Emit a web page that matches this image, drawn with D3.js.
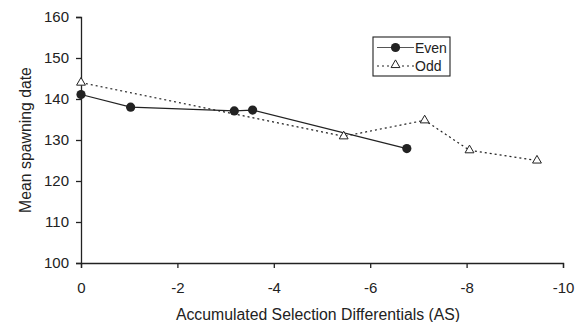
<!DOCTYPE html>
<html>
<head>
<meta charset="utf-8">
<script src="https://cdn.jsdelivr.net/npm/d3@7"></script>
<style>
  body { margin: 0; background: #fff; }
  svg { font-family: "Liberation Sans", Arial, sans-serif; }
</style>
</head>
<body>
<div id="chart"></div>
<script>
// x = accumulated selection differential, y = mean spawning date
const evenAS   = [0, -1.03, -3.18, -3.56, -6.76]
const evenDate = [141.1, 138.0, 137.1, 137.3, 127.9]
const oddAS    = [0, -5.45, -7.13, -8.06, -9.46]
const oddDate  = [144.0, 130.9, 134.8, 127.5, 125.0]
const xTicks   = [0, -2, -4, -6, -8, -10]
const yTicks   = [100, 110, 120, 130, 140, 150, 160]

const W = 581, H = 322
const margin = { top: 17, right: 18, bottom: 59, left: 81 }
const plotW = W - margin.left - margin.right
const plotH = H - margin.top - margin.bottom

const svg = d3.select("#chart").append("svg")
  .attr("width", W).attr("height", H)

const g = svg.append("g")
  .attr("transform", `translate(${margin.left},${margin.top})`)

// x runs from 0 down to -10, left to right
const x = d3.scaleLinear().domain([0, -10]).range([0, plotW])
const y = d3.scaleLinear().domain([100, 160]).range([plotH, 0])

const xAxis = g.append("g")
  .attr("transform", `translate(0,${plotH})`)
  .call(d3.axisBottom(x).tickValues(xTicks).tickSize(5).tickPadding(14))

const yAxis = g.append("g")
  .call(d3.axisLeft(y).tickValues(yTicks).tickSize(5).tickPadding(7))

;[xAxis, yAxis].forEach(a => {
  a.select(".domain").attr("stroke", "#222").attr("stroke-width", 1.3)
  a.selectAll(".tick line").attr("stroke", "#222").attr("stroke-width", 1.3)
  a.selectAll("text").style("font-size", "15px").style("fill", "#222")
})
// minus sign as plain hyphen like the original
xAxis.selectAll("text").text(d => d === 0 ? "0" : "-" + Math.abs(d))

// axis titles
svg.append("text")
  .attr("x", margin.left + plotW / 2 - 4).attr("y", 320)
  .attr("text-anchor", "middle")
  .style("font-size", "15.8px").style("fill", "#222")
  .text("Accumulated Selection Differentials (AS)")

svg.append("text")
  .attr("transform", "rotate(-90)")
  .attr("x", -(margin.top + plotH / 2)).attr("y", 31)
  .attr("text-anchor", "middle")
  .style("font-size", "15.8px").style("fill", "#222")
  .text("Mean spawning date")

const even = evenAS.map((v, i) => ({ x: v, y: evenDate[i] }))
const odd  = oddAS.map((v, i) => ({ x: v, y: oddDate[i] }))

const line = d3.line().x(d => x(d.x)).y(d => y(d.y))

g.append("path").datum(odd)
  .attr("d", line).attr("fill", "none")
  .attr("stroke", "#222").attr("stroke-width", 1.2)
  .attr("stroke-dasharray", "2,3")

g.append("path").datum(even)
  .attr("d", line).attr("fill", "none")
  .attr("stroke", "#222").attr("stroke-width", 1.2)

const tri = d3.symbol().type(d3.symbolTriangle).size(34)

g.selectAll("path.odd").data(odd).join("path")
  .attr("class", "odd")
  .attr("d", tri)
  .attr("transform", d => `translate(${x(d.x)},${y(d.y)})`)
  .attr("fill", "#fff").attr("stroke", "#222").attr("stroke-width", 1)

g.selectAll("circle.even").data(even).join("circle")
  .attr("class", "even")
  .attr("cx", d => x(d.x)).attr("cy", d => y(d.y))
  .attr("r", 4.6).attr("fill", "#222")

// legend box
const leg = svg.append("g").attr("transform", "translate(373,37)")
leg.append("rect")
  .attr("width", 77).attr("height", 39)
  .attr("fill", "#fff").attr("stroke", "#222").attr("stroke-width", 1.1)

leg.append("line").attr("x1", 4).attr("x2", 41).attr("y1", 10.5).attr("y2", 10.5)
  .attr("stroke", "#555").attr("stroke-width", 1.2)
leg.append("circle").attr("cx", 22.5).attr("cy", 10.5).attr("r", 4.6).attr("fill", "#222")
leg.append("text").attr("x", 42).attr("y", 15.5)
  .style("font-size", "14px").style("fill", "#222").text("Even")

leg.append("line").attr("x1", 4).attr("x2", 41).attr("y1", 29).attr("y2", 29)
  .attr("stroke", "#222").attr("stroke-width", 1.2).attr("stroke-dasharray", "2,3")
leg.append("path").attr("d", tri)
  .attr("transform", "translate(22.5,28)")
  .attr("fill", "#fff").attr("stroke", "#222").attr("stroke-width", 1)
leg.append("text").attr("x", 42).attr("y", 34)
  .style("font-size", "14px").style("fill", "#222").text("Odd")
</script>
</body>
</html>
